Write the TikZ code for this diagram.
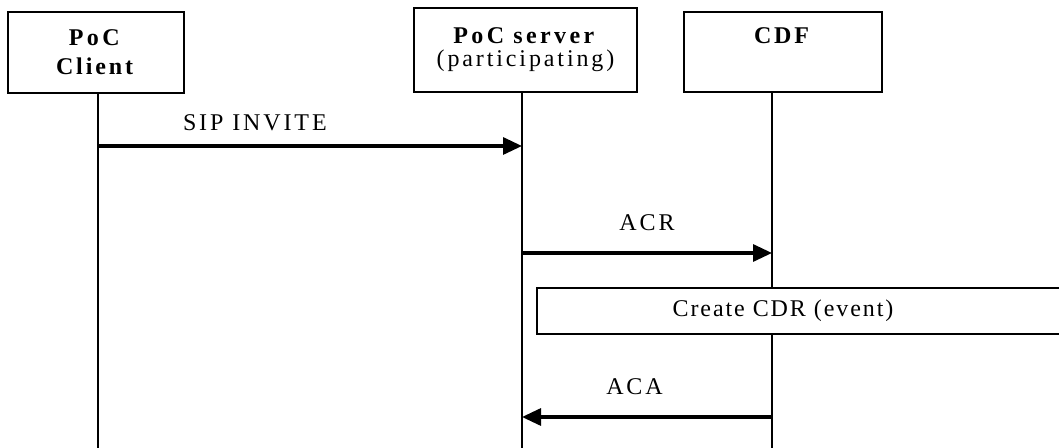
\documentclass[tikz,border=0pt]{standalone}
\usepackage{fontspec}
\setmainfont{Liberation Serif}[LetterSpace=12]
\usepackage{tikz}
\usetikzlibrary{arrows.meta}

\begin{document}
\begin{tikzpicture}[x=0.5pt,y=-0.5pt,
                font=\fontsize{12}{14.5}\selectfont,
                actor/.style={draw,line width=0.8pt,align=center,inner sep=0pt},
                life/.style={line width=0.9pt},
                msg/.style={-{Triangle[length=9.5pt,width=8.5pt]},line width=1.6pt},
                note/.style={draw,fill=white,line width=1pt,inner sep=0pt}]
            \useasboundingbox (0,0) rectangle (1059,448);
            \node [actor,minimum width=88pt,minimum height=40.5pt] (client) at (96,52.5)
                {\textbf{\addfontfeatures{LetterSpace=14}PoC}\\\textbf{Client}};
            \node [actor,minimum width=111.5pt,minimum height=42pt] (server) at (525.5,50)
                {\textbf{\addfontfeatures{LetterSpace=14}PoC server}\\[-3pt](participating)};
            \node [actor,minimum width=99pt,minimum height=40pt] (cdf) at (783,52) {};
            \node [anchor=base] (cdflabel) at (783,44) {\textbf{CDF}};
            % lifelines
            \coordinate (clientend) at (98,448);
            \coordinate (serverend) at (522,448);
            \coordinate (cdfend)    at (772,448);
            \draw [life] (client.south -| clientend) -- (clientend);
            \draw [life] (server.south -| serverend) -- (serverend);
            \draw [life] (cdf.south -| cdfend) -- (cdfend);
            % messages
            \coordinate (invite) at (98,146);
            \coordinate (acr)    at (522,253);
            \coordinate (aca)    at (772,417);
            \draw [msg] (invite) -- (invite -| serverend)
                node [pos=0.37,above=3.5pt] {SIP INVITE};
            \draw [msg] (acr) -- (acr -| cdfend)
                node [midway,above=7pt] {ACR};
            \node [note,anchor=west,minimum width=280pt,minimum height=23pt] (cdr) at (536,311) {};
            \node (cdrlabel) at (783,311) {\addfontfeatures{LetterSpace=8}Create CDR (event)};
            \draw [msg] (aca) -- (aca -| serverend)
                node [pos=0.55,above=7pt] {ACA};
\end{tikzpicture}
\end{document}
